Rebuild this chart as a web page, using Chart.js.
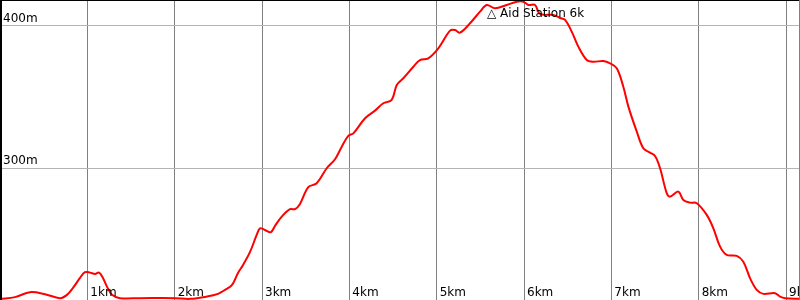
<!DOCTYPE html>
<html>
<head>
<meta charset="utf-8">
<script src="https://cdn.jsdelivr.net/npm/chart.js@4/dist/chart.umd.min.js"></script>
<style>
    html, body { margin: 0; padding: 0; background: #fff; }
    #wrap { width: 800px; height: 300px; }
</style>
</head>
<body>
<div id="wrap"><canvas id="elevationChart"></canvas></div>
<script>
// distance along the course (km) and elevation (m)
const distanceKm = [0, 0.172, 0.344, 0.515, 0.687, 0.767, 0.836, 0.916, 0.973, 1.031, 1.088, 1.134, 1.179, 1.225, 1.282, 1.374, 1.603, 2.004, 2.176, 2.370, 2.496, 2.576, 2.657, 2.725, 2.783, 2.863, 2.939, 2.977, 3.034, 3.100, 3.149, 3.226, 3.321, 3.378, 3.435, 3.530, 3.626, 3.741, 3.836, 3.913, 3.988, 4.046, 4.180, 4.294, 4.389, 4.485, 4.543, 4.618, 4.733, 4.809, 4.904, 5.019, 5.153, 5.210, 5.267, 5.382, 5.496, 5.573, 5.668, 5.802, 5.917, 5.992, 6.050, 6.126, 6.183, 6.336, 6.412, 6.470, 6.546, 6.622, 6.718, 6.794, 6.908, 6.985, 7.062, 7.137, 7.195, 7.291, 7.366, 7.443, 7.500, 7.557, 7.634, 7.672, 7.767, 7.824, 7.901, 7.978, 8.092, 8.168, 8.245, 8.321, 8.436, 8.511, 8.588, 8.665, 8.740, 8.874, 8.932, 8.989, 9.160];
const elevationM = [208.4, 209.6, 213.1, 211.7, 208.9, 211.2, 216.1, 223.1, 227.1, 226.8, 225.9, 226.8, 223.1, 217.0, 211.2, 208.9, 208.9, 208.9, 208.4, 210.0, 211.9, 214.7, 218.2, 226.6, 232.2, 241.3, 253.2, 257.9, 256.7, 255.1, 259.6, 266.1, 271.3, 271.3, 275.0, 286.7, 289.5, 300.0, 306.3, 315.1, 322.7, 324.5, 335.1, 340.4, 345.6, 347.9, 358.4, 363.1, 371.2, 375.9, 377.1, 384.1, 396.5, 397.0, 395.1, 401.7, 409.8, 414.5, 412.2, 414.5, 416.8, 416.8, 414.5, 414.5, 408.2, 407.5, 405.4, 404.0, 395.8, 385.3, 375.9, 374.7, 375.2, 373.6, 370.1, 357.2, 343.2, 325.7, 314.0, 310.9, 308.6, 300.2, 282.5, 280.1, 283.6, 277.8, 275.9, 275.5, 267.3, 257.9, 245.0, 239.2, 238.5, 234.5, 222.9, 214.7, 211.9, 212.4, 210.0, 208.9, 208.4];

const kmTicks = [1, 2, 3, 4, 5, 6, 7, 8, 9];
const kmLabels = ['1km', '2km', '3km', '4km', '5km', '6km', '7km', '8km', '9km'];
const mTicks = [300, 400];
const mLabels = ['300m', '400m'];

const aidLabel = '\u25B3 Aid Station 6k';
const aidKm = 5.577;
const aidM = 408.2;

const FONT = '12px "DejaVu Sans", sans-serif';

// labels sit inside the plot, next to their grid lines
const insideLabels = {
    id: 'insideLabels',
    afterDraw(chart) {
        const { ctx, chartArea, scales } = chart;
        ctx.save();
        ctx.font = FONT;
        ctx.fillStyle = '#000';
        ctx.textAlign = 'left';
        ctx.textBaseline = 'alphabetic';

        mTicks.forEach((v, i) => {
            ctx.fillText(mLabels[i], chartArea.left + 3, scales.y.getPixelForValue(v) - 4);
        });
        kmTicks.forEach((v, i) => {
            ctx.fillText(kmLabels[i], scales.x.getPixelForValue(v) + 3, chartArea.bottom - 4);
        });

        ctx.textBaseline = 'middle';
        ctx.fillText(aidLabel, scales.x.getPixelForValue(aidKm), scales.y.getPixelForValue(aidM));

        // frame: black top and left, grey right
        ctx.fillStyle = '#000';
        ctx.fillRect(chartArea.left, chartArea.top, 2, chartArea.bottom - chartArea.top);
        ctx.fillRect(chartArea.left, chartArea.top, chartArea.right - chartArea.left, 1);
        ctx.fillStyle = '#808080';
        ctx.fillRect(chartArea.right - 1, chartArea.top, 1, chartArea.bottom - chartArea.top);
        ctx.restore();
    }
};

new Chart(document.getElementById('elevationChart'), {
    type: 'line',
    data: {
        datasets: [{
            data: distanceKm.map((d, i) => ({ x: d, y: elevationM[i] })),
            borderColor: '#ff0000',
            borderWidth: 2,
            pointRadius: 0,
            tension: 0.35,
            fill: false
        }]
    },
    options: {
        responsive: true,
        maintainAspectRatio: false,
        animation: false,
        layout: { padding: 0 },
        plugins: { legend: { display: false }, tooltip: { enabled: false } },
        scales: {
            x: {
                type: 'linear',
                min: 0,
                max: 9.16,
                afterBuildTicks: s => { s.ticks = kmTicks.map(v => ({ value: v })); },
                ticks: { display: false },
                grid: { color: '#808080', drawTicks: false },
                border: { display: false }
            },
            y: {
                min: 207.6,
                max: 418,
                afterBuildTicks: s => { s.ticks = mTicks.map(v => ({ value: v })); },
                ticks: { display: false },
                grid: { color: '#b4b4b4', drawTicks: false },
                border: { display: false }
            }
        }
    },
    plugins: [insideLabels]
});
</script>
</body>
</html>
